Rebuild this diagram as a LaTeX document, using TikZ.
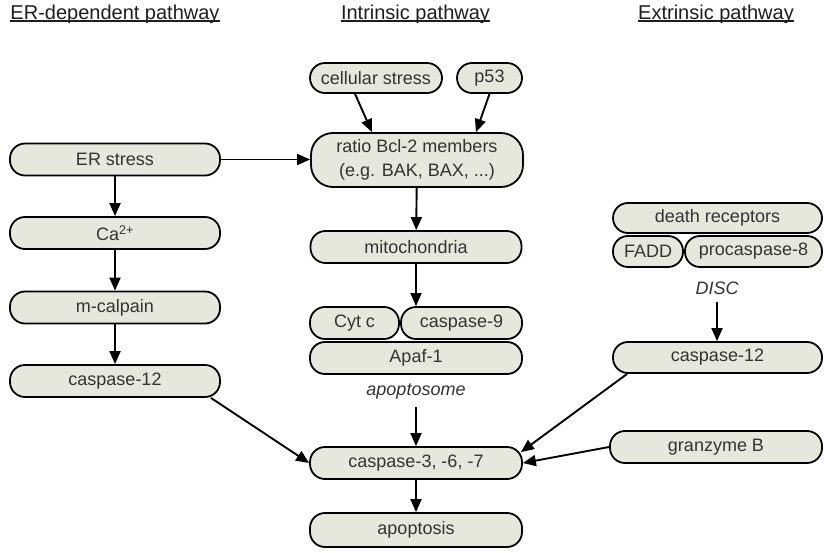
\documentclass[tikz,border=0pt]{standalone}
\usepackage{fontspec}
\setmainfont{Liberation Sans}
\usetikzlibrary{arrows.meta}
\definecolor{boxfill}{HTML}{E6E8DD}
\definecolor{boxtext}{HTML}{333333}
\definecolor{headtext}{HTML}{1E1E1E}
\newcommand\myul[1]{\setbox0\hbox{#1}\rlap{\rule[-2.6pt]{\wd0}{1.4pt}}\box0}
\tikzset{
  pbox/.style={draw=black, line width=1.8pt, fill=boxfill, rounded corners=15pt,
    inner sep=0pt, text=boxtext, font=\fontsize{18}{24}\selectfont, align=center},
  heading/.style={text=headtext, font=\fontsize{20}{24}\selectfont, inner sep=0pt},
  lab/.style={text=boxtext, font=\fontsize{18}{22}\selectfont\itshape, inner sep=0pt},
  arr/.style={draw=black, line width=1.9pt, -{Triangle[length=13pt,width=11pt]}},
}
\begin{document}
\begin{tikzpicture}[x=1pt,y=-1pt]
\useasboundingbox (0,0) rectangle (824,553);
% headings
\node[heading] (h1) at (115,14) {\myul{ER-dependent pathway}};
\node[heading] (h2) at (415.5,14) {\myul{Intrinsic pathway}};
\node[heading] (h3) at (716,14) {\myul{Extrinsic pathway}};
% left column
\node[pbox, minimum width=210pt, minimum height=32pt] (ers) at (115,159.5) {ER stress};
\node[pbox, minimum width=210pt, minimum height=32pt] (ca) at (115,233) {Ca\textsuperscript{2+}};
\node[pbox, minimum width=210pt, minimum height=32pt] (calp) at (115,307.5) {m-calpain};
\node[pbox, minimum width=210pt, minimum height=32pt] (c12l) at (115,381) {caspase-12};
% centre column
\node[pbox, minimum width=132pt, minimum height=30pt] (cs) at (376,78) {cellular stress};
\node[pbox, minimum width=65pt, minimum height=30pt] (p53) at (489.5,78) {p53};
\node[pbox, minimum width=212pt, minimum height=54pt, rounded corners=22pt] (ratio) at (417,160) {ratio Bcl-2 members\\(e.g. BAK, BAX, ...)};
\node[pbox, minimum width=211pt, minimum height=32pt] (mito) at (416,247) {mitochondria};
\node[pbox, minimum width=89pt, minimum height=32pt] (cytc) at (354.5,323) {Cyt c};
\node[pbox, minimum width=121pt, minimum height=32pt] (c9) at (461.5,323) {caspase-9};
\node[pbox, minimum width=212pt, minimum height=32pt] (apaf) at (416,358) {Apaf-1};
\node[lab] (apo) at (416,392) {apoptosome};
\node[pbox, minimum width=212pt, minimum height=32pt] (c3) at (416,463) {caspase-3, -6, -7};
\node[pbox, minimum width=212pt, minimum height=34pt] (apt) at (416,530) {apoptosis};
% right column
\node[pbox, minimum width=209pt, minimum height=30pt] (dr) at (717.5,218) {death receptors};
\node[pbox, minimum width=70pt, minimum height=31pt] (fadd) at (648,251.5) {FADD};
\node[pbox, minimum width=137pt, minimum height=31pt] (pc8) at (753.5,251.5) {procaspase-8};
\node[lab] (disc) at (717,288) {DISC};
\node[pbox, minimum width=209pt, minimum height=31pt] (c12r) at (717.5,357.5) {caspase-12};
\node[pbox, minimum width=212pt, minimum height=32pt] (gzb) at (716,447) {granzyme B};
% connectors
\draw[arr] (ers.east) -- (ers.east -| ratio.west);
\draw[arr] (ers) -- (ca);
\draw[arr] (ca) -- (calp);
\draw[arr] (calp) -- (c12l);
\draw[arr] ([xshift=-10pt]c12l.south east) -- (c3.west);
\draw[arr] ([xshift=-21pt]cs.south) -- ([xshift=-45pt]ratio.north);
\draw[arr] (p53.south) -- ([xshift=59pt]ratio.north);
\draw[arr] (ratio) -- (mito);
\draw[arr] (mito.south) -- (mito.south |- c9.north);
\draw[arr] ([yshift=-7pt]apo.south) -- (c3.north);
\draw[arr] (c3) -- (apt);
\draw[arr] ([yshift=-7pt]disc.south) -- (disc.south |- c12r.north);
\draw[arr] ([xshift=15pt]c12r.south west) -- ([xshift=-2pt,yshift=-6pt]c3.north east);
\draw[arr] (gzb.west) -- (c3.east);
\end{tikzpicture}
\end{document}
